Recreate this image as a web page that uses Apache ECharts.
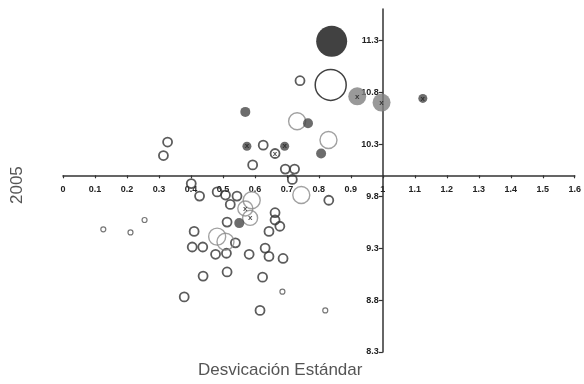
<!DOCTYPE html>
<html>
<head>
<meta charset="utf-8">
<script src="https://cdn.jsdelivr.net/npm/echarts@6/dist/echarts.min.js"></script>
<style>
  html, body { margin: 0; padding: 0; background: #fff; }
  #eChart { width: 584px; height: 384px; }
</style>
</head>
<body>
<div id="eChart"></div>
<script>
// axes cross at these values
const xCross = 1.0;
const yCross = 10.0;
const yTicks = [8.3, 8.8, 9.3, 9.8, 10.3, 10.8, 11.3];

// [desviacion estandar, 2005]
const openPts = [
  [0.327, 10.32], [0.314, 10.19], [0.626, 10.29], [0.593, 10.10], [0.695, 10.06],
  [0.724, 10.06], [0.717, 9.96], [0.741, 10.91], [0.401, 9.92], [0.427, 9.80],
  [0.482, 9.84], [0.508, 9.81], [0.544, 9.80], [0.523, 9.72], [0.513, 9.55],
  [0.831, 9.76], [0.663, 9.64], [0.663, 9.57], [0.678, 9.51], [0.644, 9.46],
  [0.410, 9.46], [0.539, 9.35], [0.404, 9.31], [0.437, 9.31], [0.477, 9.24],
  [0.511, 9.25], [0.582, 9.24], [0.632, 9.30], [0.644, 9.22], [0.688, 9.20],
  [0.438, 9.03], [0.513, 9.07], [0.624, 9.02], [0.379, 8.83], [0.616, 8.70]
];
const openMarked = [[0.663, 10.21]];
const tinyPts = [[0.126, 9.48], [0.211, 9.45], [0.255, 9.57], [0.686, 8.88], [0.820, 8.70]];
const grayOpen = [[0.732, 10.52], [0.830, 10.34], [0.590, 9.76], [0.745, 9.81], [0.482, 9.41], [0.508, 9.36]];
const grayOpenMarked = [[0.570, 9.68], [0.585, 9.59]];
const darkPts = [[0.570, 10.61], [0.766, 10.50], [0.807, 10.21], [0.551, 9.54]];
const darkMarked = [[0.575, 10.28], [0.693, 10.28], [1.125, 10.74]];
const grayFilled = [[0.920, 10.76], [0.996, 10.70]];
const bigFilled = [[0.840, 11.29]];
const bigOpen = [[0.837, 10.87]];

const xMin = 0, xMax = 1.6, yMin = 8.3, yMax = 11.6;

const xLabel = { label: { show: true, formatter: "x", color: "#222", fontSize: 8, fontWeight: "bold", fontFamily: "Liberation Sans" } };

function mk(pts, size, style, extra) {
  return Object.assign({
    type: "scatter",
    data: pts,
    symbol: "circle",
    symbolSize: size,
    itemStyle: style,
    emphasis: { disabled: true },
    silent: true,
  }, extra || {});
}

const openStyle = { color: "rgba(255,255,255,0)", borderColor: "#333", borderWidth: 1.8 };
const grayOpenStyle = { color: "rgba(255,255,255,0)", borderColor: "#8a8a8a", borderWidth: 1.4 };
const tickFont = { color: "#222", fontSize: 9, fontWeight: "bold", fontFamily: "Liberation Sans" };

const chart = echarts.init(document.getElementById("eChart"));
chart.setOption({
  animation: false,
  grid: { left: 63, right: 5, top: 9, bottom: 32, containLabel: false },
  xAxis: {
    type: "value",
    min: xMin,
    max: xMax,
    interval: 0.1,
    position: "bottom",
    splitLine: { show: false },
    axisLine: { onZero: false, lineStyle: { color: "#333", width: 1.5 } },
    axisTick: { show: true, length: 3, lineStyle: { color: "#333", width: 1.2 } },
    axisLabel: Object.assign({ margin: 10, hideOverlap: false, formatter: (v) => String(Number(v.toFixed(1))) }, tickFont),
  },
  yAxis: {
    type: "value",
    min: yMin,
    max: yMax,
    position: "left",
    splitLine: { show: false },
    axisLine: { onZero: false, lineStyle: { color: "#333", width: 1.5 } },
    axisTick: { show: true, length: 4, customValues: yTicks, lineStyle: { color: "#333", width: 1.2 } },
    axisLabel: Object.assign({ margin: 4, customValues: yTicks, formatter: (v) => v.toFixed(1) }, tickFont),
  },
  graphic: [
    { type: "text", left: 198, top: 362, style: { text: "Desvicación Estándar", fill: "#555", font: "17px 'Liberation Sans'" } },
    { type: "text", x: 9, y: 204, rotation: Math.PI / 2, style: { text: "2005", fill: "#555", font: "17px 'Liberation Sans'" } },
  ],
  series: [
    mk(tinyPts, 5, { color: "rgba(255,255,255,0)", borderColor: "#555", borderWidth: 1.2 }),
    mk(openPts, 9, openStyle),
    mk(openMarked, 9, openStyle, xLabel),
    mk(grayOpen, 17, grayOpenStyle),
    mk(grayOpenMarked, 15, grayOpenStyle, xLabel),
    mk(darkPts, 10, { color: "#474747" }),
    mk(darkMarked, 9, { color: "#474747" }, xLabel),
    mk(grayFilled, 18, { color: "#808080" }, xLabel),
    mk(bigOpen, 31, { color: "rgba(255,255,255,0)", borderColor: "#111", borderWidth: 1.5 }),
    mk(bigFilled, 31, { color: "#111" }),
  ],
});

// move the axes so they cross at (xCross, yCross), using the chart's own scales
const yBottomPx = chart.convertToPixel({ yAxisIndex: 0 }, yMin);
const yCrossPx = chart.convertToPixel({ yAxisIndex: 0 }, yCross);
const xLeftPx = chart.convertToPixel({ xAxisIndex: 0 }, xMin);
const xCrossPx = chart.convertToPixel({ xAxisIndex: 0 }, xCross);
chart.setOption({
  xAxis: { offset: -(yBottomPx - yCrossPx) },
  yAxis: { offset: -(xCrossPx - xLeftPx) },
});
</script>
</body>
</html>
